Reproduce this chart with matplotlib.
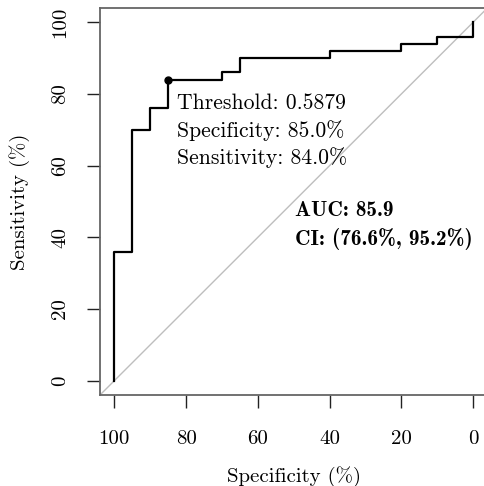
import matplotlib
matplotlib.use("Agg")
import matplotlib.pyplot as plt

# ROC curve points (specificity %, sensitivity %)
specificity = [100, 100, 95, 95, 90, 90, 85, 85, 70, 70, 65, 65, 40, 40, 20, 20, 10, 10, 0, 0]
sensitivity = [0, 36, 36, 70, 70, 76, 76, 84, 84, 86, 86, 90, 90, 92, 92, 94, 94, 96, 96, 100]

# best threshold
thr_spec, thr_sens = 85, 84
thr_lines = ["Threshold: 0.5879", "Specificity: 85.0%", "Sensitivity: 84.0%"]
auc_lines = ["AUC: 85.9", "CI: (76.6%, 95.2%)"]
ticks = [100, 80, 60, 40, 20, 0]

plt.rcParams['font.family'] = 'cmr10'
plt.rcParams['axes.formatter.use_mathtext'] = True

W, H = 484, 486
fig = plt.figure(figsize=(W / 100, H / 100), dpi=100)
ax = fig.add_axes([100 / W, (H - 395) / H, 387.4 / W, 387 / H])
ax.set_xlim(104, -4)
ax.set_ylim(-4, 104)

# chance line
ax.plot([104, -4], [-4, 104], color='#bebebe', lw=1, zorder=1)
ax.plot(specificity, sensitivity, color='black', lw=1.6, zorder=2)
ax.plot([thr_spec], [thr_sens], 'o', color='black', ms=5, zorder=3)

for i, s in enumerate(thr_lines):
    ax.text(82.6, 77.4 - i * 7.5, s, fontsize=15.6, va='center', ha='left')
ax.text(49.7, 47.4, auc_lines[0], fontsize=15.3, va='center', ha='left', family='cmb10')
ax.text(49.7, 39.4, auc_lines[1], fontsize=15.3, va='center', ha='left', family='cmb10')

ax.set_xticks(ticks)
ax.set_xticklabels([str(t) for t in ticks])
ax.set_yticks(ticks)
ax.set_yticklabels([str(t) for t in ticks], rotation=90, va='center')
ax.tick_params(axis='both', length=9.4, width=1, color='#222222', labelsize=15)
ax.tick_params(axis='x', pad=16)
ax.tick_params(axis='y', pad=13)

for side in ['left', 'top', 'bottom']:
    ax.spines[side].set_color('#666666')
    ax.spines[side].set_linewidth(1.3)
ax.spines['right'].set_visible(False)

ax.set_xlabel("Specificity (%)", fontsize=15)
ax.set_ylabel("Sensitivity (%)", fontsize=15)
ax.xaxis.set_label_coords(0.5, -0.21)
ax.yaxis.set_label_coords(-0.2065, 0.5)
ax.xaxis.label.set_va('center')
ax.yaxis.label.set_va('center')

fig.savefig("out.png", dpi=100)
